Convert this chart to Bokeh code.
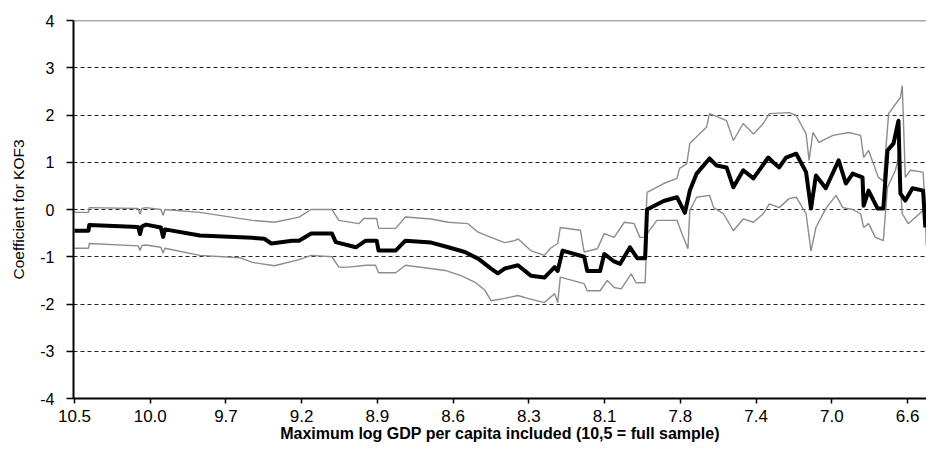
from bokeh.plotting import figure
from bokeh.models import Range1d, FixedTicker, Span
from bokeh.embed import file_html
from bokeh.resources import INLINE

# x positions are observation counts (sample cut-off steps); tick every 20 steps
tick_pos = [0, 20, 40, 60, 80, 100, 120, 140, 160, 180, 200, 220]
tick_labels = ["10.5", "10.0", "9.7", "9.2", "8.9", "8.6", "8.3", "8.1", "7.8", "7.4", "7.0", "6.6"]

mean_x = [0.0, 3.7, 3.9, 16.8, 17.3, 17.8, 18.9, 22.8, 23.4, 23.9, 33.1, 47.0, 50.1, 52.0, 57.5, 59.3,
          62.5, 68.0, 69.0, 74.3, 76.9, 79.8, 80.3, 84.8, 87.4, 94.2, 98.7, 103.1, 106.6, 110.0, 111.8,
          113.6, 117.1, 120.5, 124.1, 126.8, 127.6, 128.9, 134.6, 135.4, 138.8, 139.9, 142.5, 144.1,
          146.7, 148.6, 150.7, 151.2, 155.6, 159.1, 161.2, 162.5, 164.3, 167.7, 169.6, 172.2, 174.0,
          176.6, 179.3, 180.8, 183.2, 184.5, 186.1, 187.9, 190.6, 193.2, 194.5, 195.8, 198.4, 201.8,
          203.7, 205.5, 208.1, 208.4, 209.7, 212.1, 213.6, 214.7, 216.3, 217.6, 218.1, 219.4, 221.3,
          224.1, 224.7]
mean_y = [-0.45, -0.45, -0.33, -0.37, -0.52, -0.36, -0.32, -0.38, -0.58, -0.42, -0.55, -0.60, -0.62,
          -0.72, -0.66, -0.66, -0.51, -0.51, -0.69, -0.80, -0.66, -0.66, -0.87, -0.87, -0.66, -0.70,
          -0.80, -0.90, -1.04, -1.25, -1.35, -1.25, -1.18, -1.40, -1.44, -1.22, -1.30, -0.87, -1.00,
          -1.30, -1.30, -0.94, -1.10, -1.15, -0.80, -1.03, -1.03, 0.00, 0.18, 0.26, -0.07, 0.40, 0.76,
          1.08, 0.93, 0.89, 0.47, 0.83, 0.66, 0.83, 1.10, 1.00, 0.89, 1.10, 1.18, 0.79, 0.02, 0.72,
          0.45, 1.04, 0.55, 0.76, 0.68, 0.08, 0.40, 0.02, 0.02, 1.25, 1.40, 1.88, 0.34, 0.19, 0.45,
          0.40, -0.38]

upper_x = [0.0, 3.7, 3.9, 16.8, 17.3, 17.8, 18.9, 22.8, 23.4, 23.9, 33.1, 47.0, 52.8, 59.3, 62.5, 68.0,
           69.8, 75.1, 76.4, 79.8, 80.3, 84.8, 87.4, 94.2, 98.7, 103.9, 106.6, 110.0, 113.6, 116.3,
           117.1, 120.5, 124.1, 125.7, 127.6, 128.3, 133.6, 134.6, 138.1, 139.9, 142.5, 145.2, 147.8,
           149.3, 150.7, 151.2, 155.6, 159.1, 159.8, 161.7, 162.5, 166.9, 167.7, 172.2, 174.0, 176.6,
           179.3, 181.9, 183.5, 188.7, 190.6, 193.2, 194.0, 195.0, 196.6, 200.3, 204.5, 207.6, 208.4,
           209.7, 212.3, 213.6, 215.0, 218.1, 218.6, 219.4, 220.7, 224.1, 224.7, 225.5]
upper_y = [-0.06, -0.06, 0.04, 0.02, -0.10, 0.02, 0.04, 0.00, -0.12, 0.00, -0.06, -0.23, -0.27, -0.16,
           0.00, 0.00, -0.23, -0.30, -0.19, -0.19, -0.40, -0.40, -0.16, -0.20, -0.27, -0.30, -0.48,
           -0.59, -0.70, -0.66, -0.62, -0.87, -0.97, -0.82, -0.72, -0.38, -0.44, -0.90, -0.83, -0.51,
           -0.59, -0.27, -0.30, -0.59, -0.59, 0.36, 0.55, 0.66, 0.87, 0.97, 1.40, 1.74, 2.03, 1.88,
           1.46, 1.82, 1.60, 1.82, 2.03, 2.05, 1.99, 1.60, 1.04, 1.63, 1.42, 1.57, 1.63, 1.57, 1.10,
           1.25, 0.68, 0.60, 2.03, 2.37, 2.62, 0.68, 0.83, 0.79, 0.00, -0.10]

lower_x = [0.0, 3.7, 3.9, 16.8, 17.3, 17.8, 18.9, 22.8, 23.4, 23.9, 33.1, 43.6, 47.0, 52.8, 59.3, 62.5,
           68.0, 69.8, 72.4, 76.9, 79.5, 80.3, 84.8, 87.4, 97.9, 102.1, 105.8, 108.4, 110.0, 113.6,
           117.1, 119.7, 124.1, 126.8, 127.6, 128.3, 134.6, 135.4, 138.8, 140.7, 142.5, 144.4, 147.0,
           148.3, 150.7, 151.2, 153.8, 159.1, 160.4, 162.0, 162.5, 164.3, 167.7, 168.8, 171.4, 174.0,
           176.6, 179.3, 181.9, 183.5, 186.1, 188.7, 190.6, 193.2, 194.5, 195.8, 198.4, 201.1, 202.9,
           205.5, 207.6, 208.4, 209.7, 211.5, 213.6, 214.7, 216.8, 217.6, 218.6, 220.2, 222.0, 224.7,
           224.9]
lower_y = [-0.82, -0.82, -0.72, -0.77, -0.87, -0.76, -0.75, -0.80, -0.92, -0.82, -0.97, -1.02, -1.12,
           -1.19, -1.06, -0.97, -1.00, -1.22, -1.22, -1.18, -1.18, -1.34, -1.34, -1.18, -1.29, -1.40,
           -1.54, -1.71, -1.93, -1.88, -1.82, -1.88, -1.97, -1.78, -1.97, -1.43, -1.57, -1.72, -1.72,
           -1.50, -1.65, -1.68, -1.36, -1.55, -1.55, -0.51, -0.23, -0.23, -0.51, -0.83, -0.02, 0.26,
           0.30, 0.04, -0.09, -0.45, -0.20, -0.27, -0.09, 0.12, 0.04, 0.23, 0.26, -0.09, -0.88, -0.38,
           0.02, 0.30, 0.04, 0.00, -0.09, -0.38, -0.30, -0.59, -0.66, 0.47, 0.83, 1.10, -0.09, -0.30,
           -0.17, 0.02, -0.75]

y_ticks = [-4, -3, -2, -1, 0, 1, 2, 3, 4]
y_tick_labels = ["-4", "-3", "-2", "-1", "0", "1", "2", "3", "4"]
grid_ticks = [-3, -2, -1, 0, 1, 2, 3]

p = figure(width=926, height=448, output_backend="svg", toolbar_location=None,
           x_range=Range1d(-0.26, 225.0), y_range=Range1d(-4, 4),
           min_border_left=73, min_border_right=0, min_border_top=20, min_border_bottom=50)
p.background_fill_color = "white"
p.border_fill_color = "white"
p.outline_line_color = None

p.xgrid.visible = False
p.ygrid.ticker = FixedTicker(ticks=grid_ticks)
p.ygrid.grid_line_color = "#222222"
p.ygrid.grid_line_dash = "4 3"
p.ygrid.grid_line_width = 1

p.add_layout(Span(location=4, dimension="width", line_color="#555555", line_width=1.5))

p.line(lower_x, lower_y, line_color="#8c8c8c", line_width=1.4)
p.line(upper_x, upper_y, line_color="#8c8c8c", line_width=1.4)
p.line(mean_x, mean_y, line_color="black", line_width=4, line_join="round")

xa = p.xaxis[0]
xa.ticker = FixedTicker(ticks=tick_pos)
xa.major_label_overrides = {t: l for t, l in zip(tick_pos, tick_labels)}
xa.minor_tick_line_color = None
xa.major_tick_in = 0
xa.major_tick_out = 5
xa.major_tick_line_width = 1.5
xa.axis_line_width = 2
xa.axis_line_color = "black"
xa.major_label_text_font = "Liberation Sans"
xa.major_label_text_font_size = "17px"
xa.major_label_text_color = "black"
xa.major_label_standoff = 6
xa.axis_label = "Maximum log GDP per capita included (10,5 = full sample)"
xa.axis_label_text_font = "Liberation Sans"
xa.axis_label_text_font_style = "bold"
xa.axis_label_text_font_size = "16px"
xa.axis_label_text_color = "black"
xa.axis_label_standoff = 0

ya = p.yaxis[0]
ya.ticker = FixedTicker(ticks=y_ticks)
ya.major_label_overrides = {t: l for t, l in zip(y_ticks, y_tick_labels)}
ya.minor_tick_line_color = None
ya.major_tick_in = 0
ya.major_tick_out = 7
ya.major_tick_line_width = 1.5
ya.axis_line_width = 2
ya.axis_line_color = "black"
ya.major_label_text_font = "Liberation Sans"
ya.major_label_text_font_size = "16px"
ya.major_label_text_color = "black"
ya.major_label_standoff = 12
ya.axis_label = "Coefficient for KOF3"
ya.axis_label_text_font = "Liberation Sans"
ya.axis_label_text_font_style = "normal"
ya.axis_label_text_font_size = "15.5px"
ya.axis_label_text_color = "black"
ya.axis_label_standoff = 10

open("out.html", "w").write(file_html(p, INLINE))
